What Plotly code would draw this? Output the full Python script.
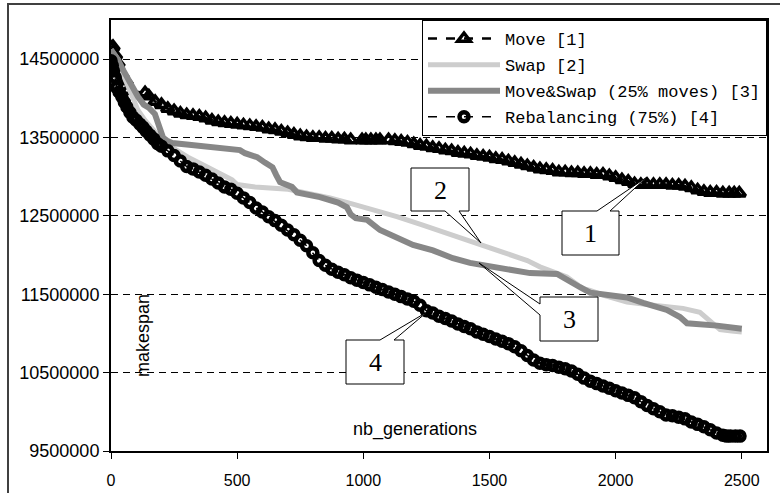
import plotly.graph_objects as go

# ---------------- data ----------------
gen_move = [0, 8, 18, 28, 45, 60, 67, 135, 150, 175, 200, 225, 250, 275, 300, 325, 350, 375, 400,
            425, 450, 475, 500, 525, 550, 575, 600, 625, 650, 675, 700, 725, 750, 775, 800, 825,
            850, 875, 900, 925, 950, 995, 1010, 1030, 1050, 1066, 1100, 1125, 1150, 1175, 1200,
            1225, 1250, 1275, 1300, 1325, 1350, 1375, 1400, 1425, 1450, 1475, 1500, 1525, 1550,
            1575, 1600, 1625, 1650, 1675, 1700, 1725, 1750, 1775, 1800, 1825, 1850, 1875, 1900,
            1925, 1950, 1975, 2000, 2025, 2050, 2075, 2100, 2125, 2150, 2175, 2200, 2225, 2250,
            2275, 2300, 2325, 2350, 2375, 2400, 2425, 2450, 2470, 2490]
makespan_move = [14650000, 14660000, 14550000, 14450000, 14300000, 14220000, 14100000, 14070000,
                 14030000, 13960000, 13920000, 13870000, 13840000, 13810000, 13790000, 13780000,
                 13770000, 13750000, 13720000, 13700000, 13690000, 13680000, 13670000, 13660000,
                 13650000, 13640000, 13630000, 13610000, 13600000, 13580000, 13560000, 13540000,
                 13520000, 13510000, 13500000, 13500000, 13490000, 13490000, 13480000, 13480000,
                 13470000, 13470000, 13470000, 13470000, 13470000, 13470000, 13470000, 13460000,
                 13450000, 13440000, 13420000, 13400000, 13390000, 13370000, 13360000, 13340000,
                 13330000, 13310000, 13300000, 13290000, 13270000, 13260000, 13250000, 13230000,
                 13220000, 13200000, 13180000, 13160000, 13140000, 13120000, 13100000, 13090000,
                 13080000, 13060000, 13060000, 13050000, 13050000, 13040000, 13040000, 13030000,
                 13030000, 13010000, 12990000, 12960000, 12940000, 12910000, 12900000, 12900000,
                 12900000, 12900000, 12900000, 12890000, 12890000, 12880000, 12860000, 12830000,
                 12810000, 12800000, 12800000, 12790000, 12790000, 12790000, 12790000]

gen_swap = [0, 28, 55, 83, 107, 135, 170, 202, 250, 305, 360, 412, 480, 500, 571, 702, 760, 868,
            959, 1050, 1133, 1230, 1331, 1400, 1462, 1530, 1594, 1650, 1700, 1750, 1807, 1871,
            1899, 1960, 2045, 2150, 2267, 2334, 2374, 2414, 2460, 2500]
makespan_swap = [14620000, 14500000, 14250000, 14020000, 13850000, 13720000, 13580000, 13470000,
                 13360000, 13250000, 13160000, 13080000, 12960000, 12900000, 12870000, 12840000,
                 12800000, 12730000, 12650000, 12570000, 12490000, 12390000, 12280000, 12200000,
                 12130000, 12060000, 12000000, 11930000, 11850000, 11790000, 11720000, 11570000,
                 11550000, 11480000, 11400000, 11360000, 11320000, 11270000, 11170000, 11050000,
                 11030000, 11020000]

gen_moveswap = [0, 15, 28, 50, 75, 107, 130, 150, 174, 194, 206, 222, 242, 300, 373, 464, 511,
                531, 579, 610, 640, 655, 670, 717, 737, 828, 900, 935, 950, 970, 1015, 1066,
                1133, 1197, 1276, 1355, 1423, 1480, 1530, 1661, 1768, 1792, 1807, 1859, 1899,
                1960, 2045, 2109, 2203, 2255, 2283, 2402, 2450, 2500]
makespan_moveswap = [14620000, 14550000, 14490000, 14350000, 14200000, 14020000, 13920000,
                     13880000, 13800000, 13600000, 13500000, 13460000, 13430000, 13410000,
                     13380000, 13360000, 13340000, 13300000, 13250000, 13180000, 13120000,
                     13020000, 12930000, 12870000, 12800000, 12740000, 12670000, 12610000,
                     12520000, 12470000, 12450000, 12320000, 12230000, 12130000, 12060000,
                     11960000, 11900000, 11870000, 11850000, 11770000, 11760000, 11720000,
                     11680000, 11590000, 11520000, 11490000, 11460000, 11390000, 11300000,
                     11210000, 11130000, 11100000, 11080000, 11060000]

gen_rebal = [0, 5, 10, 16, 22, 32, 43, 53, 63, 75, 87, 100, 115, 127, 140, 155, 170, 185, 200,
             225, 250, 275, 300, 325, 350, 375, 400, 425, 450, 475, 500, 525, 550, 575, 600, 625,
             650, 675, 700, 725, 750, 775, 800, 825, 850, 875, 900, 925, 950, 975, 1000, 1025,
             1050, 1075, 1100, 1125, 1150, 1175, 1200, 1225, 1250, 1275, 1300, 1325, 1350, 1375,
             1400, 1425, 1450, 1475, 1500, 1525, 1550, 1575, 1600, 1625, 1650, 1675, 1700, 1725,
             1750, 1775, 1800, 1825, 1850, 1875, 1900, 1925, 1950, 1975, 2000, 2025, 2050, 2075,
             2100, 2125, 2150, 2175, 2200, 2225, 2250, 2275, 2300, 2325, 2350, 2375, 2400, 2425,
             2440, 2455, 2475, 2493]
makespan_rebal = [14480000, 14420000, 14350000, 14270000, 14140000, 14080000, 14020000, 13950000,
                  13890000, 13820000, 13760000, 13720000, 13670000, 13630000, 13580000, 13530000,
                  13480000, 13420000, 13390000, 13330000, 13270000, 13200000, 13130000, 13100000,
                  13060000, 13020000, 12970000, 12920000, 12870000, 12840000, 12790000, 12730000,
                  12670000, 12600000, 12550000, 12490000, 12440000, 12380000, 12320000, 12260000,
                  12190000, 12120000, 12030000, 11930000, 11870000, 11820000, 11780000, 11750000,
                  11710000, 11680000, 11650000, 11620000, 11590000, 11560000, 11530000, 11500000,
                  11470000, 11440000, 11410000, 11360000, 11290000, 11260000, 11220000, 11190000,
                  11160000, 11120000, 11090000, 11060000, 11020000, 10990000, 10960000, 10930000,
                  10900000, 10870000, 10830000, 10780000, 10720000, 10660000, 10620000, 10600000,
                  10590000, 10570000, 10550000, 10520000, 10480000, 10430000, 10390000, 10360000,
                  10330000, 10300000, 10270000, 10240000, 10210000, 10180000, 10130000, 10080000,
                  10040000, 10000000, 9960000, 9950000, 9930000, 9910000, 9870000, 9840000,
                  9810000, 9770000, 9730000, 9700000, 9690000, 9690000, 9690000, 9690000]

series_names = ["Move [1]", "Swap [2]", "Move&Swap (25% moves) [3]", "Rebalancing (75%) [4]"]
callout_labels = ["1", "2", "3", "4"]
y_tick_values = [9500000, 10500000, 11500000, 12500000, 13500000, 14500000]
x_tick_values = [0, 500, 1000, 1500, 2000, 2500]

# ---------------- layout geometry (pixels) ----------------
W, H = 780, 493
L, R, T, B = 111, 767, 20, 451
XMAX = 2600
YMIN, YMAX = 9500000, 15000000


def dx(p):
    return (p - L) / (R - L) * XMAX


def dy(p):
    return YMIN + (B - p) / (B - T) * (YMAX - YMIN)


def px_paper(p):
    return (p - L) / (R - L)


def py_paper(p):
    return (B - p) / (B - T)


fig = go.Figure()

fig.add_trace(go.Scatter(
    x=gen_move, y=makespan_move, name=series_names[0], mode="lines+markers",
    line=dict(color="black", width=2.5, dash="dash"),
    marker=dict(symbol="triangle-up-open", size=11, color="black", line=dict(width=3.5)),
    legendgroup="g1"))
fig.add_trace(go.Scatter(
    x=gen_swap, y=makespan_swap, name=series_names[1], mode="lines",
    line=dict(color="#cdcdcd", width=5), legendgroup="g2"))
fig.add_trace(go.Scatter(
    x=gen_moveswap, y=makespan_moveswap, name=series_names[2], mode="lines",
    line=dict(color="#878787", width=6), legendgroup="g3"))
fig.add_trace(go.Scatter(
    x=gen_rebal, y=makespan_rebal, name=series_names[3], mode="lines+markers",
    line=dict(color="black", width=1.5, dash="dash"),
    marker=dict(symbol="circle-open", size=9, color="black", line=dict(width=4.5)),
    legendgroup="g4"))

# ---------------- callouts ----------------
callouts = [
    (callout_labels[0], [(562, 211), (597, 211), (647, 177), (610, 211), (619, 211), (619, 255), (562, 255)], (590, 233)),
    (callout_labels[1], [(411, 168), (469, 168), (469, 211), (459, 211), (481, 243), (445, 211), (411, 211)], (440, 190)),
    (callout_labels[2], [(540, 297), (598, 297), (598, 341), (540, 341), (540, 315), (479, 263), (540, 304)], (569, 319)),
    (callout_labels[3], [(346, 340), (380, 340), (427, 312), (394, 340), (404, 340), (404, 384), (346, 384)], (375, 362)),
]
shapes = []
annotations = []
for lab, poly, (cx, cy) in callouts:
    path = "M " + " L ".join(f"{dx(px):.3f},{dy(py):.1f}" for px, py in poly) + " Z"
    shapes.append(dict(type="path", xref="x", yref="y", path=path,
                       fillcolor="white", line=dict(color="black", width=1), layer="above"))
    annotations.append(dict(x=dx(cx), y=dy(cy), xref="x", yref="y", text=lab, showarrow=False,
                            font=dict(family="Liberation Serif, Times New Roman, serif", size=26, color="black"),
                            xanchor="center", yanchor="middle"))

# axis titles drawn inside the plot area
annotations.append(dict(x=px_paper(143), y=py_paper(336), xref="paper", yref="paper", text="makespan",
                        textangle=-90, showarrow=False, xanchor="center", yanchor="middle",
                        font=dict(family="Liberation Sans, Arial, sans-serif", size=18, color="black")))
annotations.append(dict(x=px_paper(415), y=py_paper(429), xref="paper", yref="paper", text="nb_generations",
                        showarrow=False, xanchor="center", yanchor="middle",
                        font=dict(family="Liberation Sans, Arial, sans-serif", size=18, color="black")))

# outer chart-area frame
shapes.append(dict(type="rect", xref="paper", yref="paper",
                   x0=px_paper(8), x1=px_paper(800), y0=py_paper(510), y1=py_paper(4),
                   line=dict(color="#404040", width=2), fillcolor="rgba(0,0,0,0)", layer="below"))

fig.update_layout(
    width=W, height=H,
    margin=dict(l=L, r=W - R, t=T, b=H - B, pad=0, autoexpand=False),
    paper_bgcolor="white", plot_bgcolor="white",
    showlegend=True,
    legend=dict(x=1, y=1, xanchor="right", yanchor="top",
                bgcolor="white", bordercolor="black", borderwidth=1,
                font=dict(family="Liberation Mono, Courier New, monospace", size=17, color="black"),
                itemwidth=72, traceorder="grouped", tracegroupgap=1),
    shapes=shapes,
    annotations=annotations,
)
fig.update_xaxes(range=[0, XMAX], tickvals=x_tick_values, ticks="outside", ticklen=6,
                 tickcolor="black", tickwidth=1, showgrid=False, zeroline=False,
                 showline=True, linecolor="black", linewidth=2, mirror=True,
                 ticklabelstandoff=8, automargin=False,
                 tickfont=dict(family="Liberation Sans, Arial, sans-serif", size=16, color="black"))
fig.update_yaxes(range=[YMIN, YMAX], tickvals=y_tick_values, tickformat="d", ticks="outside",
                 ticklen=6, tickcolor="black", tickwidth=1, automargin=False,
                 showgrid=True, gridcolor="black", gridwidth=1, griddash="7px,5px",
                 zeroline=False, showline=True, linecolor="black", linewidth=2, mirror=True,
                 tickfont=dict(family="Liberation Sans, Arial, sans-serif", size=18, color="black"))

fig.write_html("out.html")
